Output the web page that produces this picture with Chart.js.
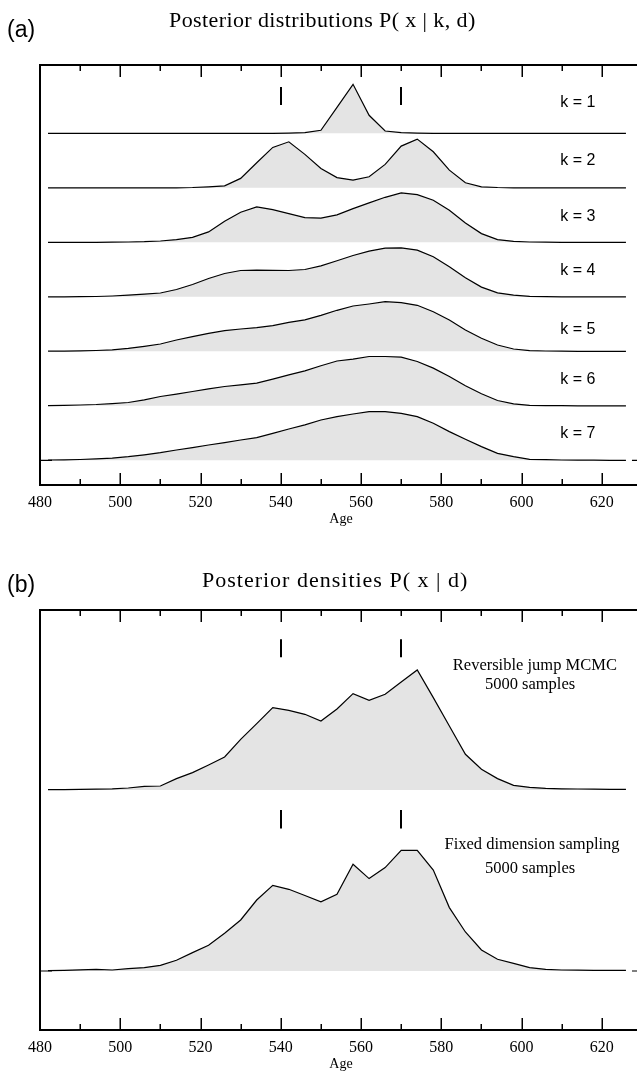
<!DOCTYPE html>
<html lang="en">
<head>
    <meta charset="UTF-8">
    <title>Posterior distributions</title>
    <style>
        html, body { margin: 0; padding: 0; overflow: hidden; background: #fff; }
        body { position: relative; width: 637px; height: 1074px; }
        canvas { position: absolute; left: 0; }
    </style>
</head>
<body>

<canvas id="chartA" width="660" height="530" style="top:0"></canvas>
<canvas id="chartB" width="660" height="530" style="top:545px"></canvas>

<script src="https://cdn.jsdelivr.net/npm/chart.js"></script>
<script>
    // ages where the densities were sampled
    const ages = [482, 486, 490, 494, 498, 502, 506, 510, 514, 518, 522, 526, 530, 534, 538, 542, 546, 550, 554,
        558, 562, 566, 570, 574, 578, 582, 586, 590, 594, 598, 602, 606, 610, 614, 618, 622, 626];
    const xTicks = [480, 500, 520, 540, 560, 580, 600, 620];
    const xMinorTicks = [490, 510, 530, 550, 570, 590, 610];
    const markerAges = [540, 570];

    // panel (a): P(x | k, d), arbitrary density units
    const kLabels = ['k = 1', 'k = 2', 'k = 3', 'k = 4', 'k = 5', 'k = 6', 'k = 7'];
    const pK1 = [0, 0, 0, 0, 0, 0, 0, 0, 0, 0, 0, 0, 0, 0, 0, 0.2, 0.6, 3, 26, 49, 18, 2.3, 0.6, 0.2,
        0, 0, 0, 0, 0, 0, 0, 0, 0, 0, 0, 0, 0];
    const pK2 = [0, 0, 0, 0, 0, 0, 0, 0, 0, 0.3, 1, 2, 9.4, 25, 40.4, 46, 33.4, 19.4, 10.2, 7.7, 11, 23.4, 41.7,
        48.7, 36, 17.7, 5, 1, 0.3, 0, 0, 0, 0, 0, 0, 0, 0];
    const pK3 = [0, 0, 0, 0, 0.1, 0.3, 0.6, 1.3, 2.7, 5, 10.4, 21, 30, 35.4, 32.7, 28.7, 24.7, 24.2, 27.5, 33.7,
        39.4, 45, 49.4, 47.7, 42, 32, 19.4, 8.7, 2.7, 1, 0.3, 0.1, 0, 0, 0, 0, 0];
    const pK4 = [0, 0, 0.1, 0.3, 0.8, 1.6, 2.6, 3.8, 7.3, 12.3, 18.3, 23.3, 26.3, 26.7, 26.5, 26.3, 27.3, 31, 36,
        41.3, 45.7, 48.7, 49, 46.7, 40, 30, 19, 9.7, 4, 1.6, 0.4, 0.1, 0, 0, 0, 0, 0];
    const pK5 = [0.1, 0.2, 0.4, 0.8, 1.4, 3, 5, 7.3, 11.3, 14.6, 18, 20.6, 22.3, 23.6, 25.6, 29, 31.5, 36, 41,
        45.3, 47.3, 49.6, 48.6, 46, 39.6, 31.3, 21.3, 13, 6.3, 2.3, 0.7, 0.3, 0.1, 0, 0, 0, 0];
    const pK6 = [0.2, 0.5, 0.8, 1.3, 2.2, 3.3, 6, 9.3, 11.7, 14.3, 17, 19.3, 21, 22.7, 26.7, 31, 35, 40, 44.8,
        46.7, 49.3, 49.3, 48.7, 44.3, 37.7, 29.3, 20, 12, 5.3, 2, 0.5, 0.2, 0.1, 0, 0, 0, 0];
    const pK7 = [0.3, 0.5, 0.8, 1.4, 2.2, 3.6, 5.5, 7.7, 10.3, 12.7, 15.3, 17.7, 20.3, 22.7, 27, 31.3, 35.5, 40.3,
        43.7, 46.3, 48.6, 48.6, 47, 43.7, 37, 28.7, 21, 13.7, 7, 3.7, 1, 0.6, 0.3, 0.2, 0.1, 0, 0];

    // panel (b): P(x | d)
    const rjLabel = ['Reversible jump MCMC', '5000 samples'];
    const fdLabel = ['Fixed dimension sampling', '5000 samples'];
    const pRJ = [0.3, 0.4, 0.7, 0.9, 1.1, 2, 3.7, 4, 11.4, 17.4, 25, 33, 50.7, 66.4, 82.4, 79.7, 75.7, 69, 81,
        96.4, 89.7, 95.7, 108, 120, 92.4, 64, 35.7, 20.7, 11.4, 4.7, 2.7, 1.7, 1.2, 1, 0.8, 0.7, 0.7];
    const pFD = [0.3, 0.7, 1.2, 1.6, 1, 2.4, 3.4, 5.7, 10.7, 18.4, 25.7, 37.7, 51, 71, 85.7, 81.7, 75.5, 69.2,
        76.7, 106.7, 92.4, 103.4, 120.7, 120.7, 101, 63.4, 39, 21, 11.7, 7.7, 3.4, 1.7, 1, 0.8, 0.7, 0.7, 0.7];

    const serif = '"Liberation Serif", "Times New Roman", serif';
    const sans = '"Liberation Sans", Arial, sans-serif';

    function ridge(dens, base) {
        return {
            data: ages.map((a, i) => ({x: a, y: base + dens[i]})),
            fill: {value: base},
            backgroundColor: '#e4e4e4',
            borderColor: '#000',
            borderWidth: 1.2,
            pointRadius: 0,
            tension: 0,
        };
    }

    // frame, inward ticks, age markers, panel heading and text
    const framePlugin = {
        id: 'frame',
        afterDraw(chart, args, opts) {
            const {ctx, chartArea: a, scales: {x, y}} = chart;
            ctx.save();
            ctx.strokeStyle = '#000';
            ctx.lineWidth = 2;
            ctx.beginPath();
            ctx.moveTo(a.left, a.top); ctx.lineTo(a.right, a.top);
            ctx.moveTo(a.left, a.top - 1); ctx.lineTo(a.left, a.bottom + 1);
            ctx.moveTo(a.left, a.bottom); ctx.lineTo(a.right, a.bottom);
            ctx.stroke();

            ctx.lineWidth = 1.5;
            ctx.beginPath();
            const tick = (v, len) => {
                const px = Math.round(x.getPixelForValue(v)) + 0.25;
                ctx.moveTo(px, a.top); ctx.lineTo(px, a.top + len);
                ctx.moveTo(px, a.bottom); ctx.lineTo(px, a.bottom - len);
            };
            xTicks.forEach(v => tick(v, 12));
            xMinorTicks.forEach(v => tick(v, 6));
            ctx.stroke();

            // short marks on the zero line of the lowest curve
            ctx.lineWidth = 1.2;
            ctx.beginPath();
            const y0 = y.getPixelForValue(0);
            ctx.moveTo(a.left, y0); ctx.lineTo(a.left + 12, y0);
            ctx.moveTo(x.getPixelForValue(627.5), y0); ctx.lineTo(a.right, y0);
            ctx.stroke();

            ctx.lineWidth = 2;
            ctx.beginPath();
            opts.marks.forEach(([lo, hi]) => {
                markerAges.forEach(v => {
                    const px = Math.round(x.getPixelForValue(v));
                    ctx.moveTo(px, y.getPixelForValue(lo));
                    ctx.lineTo(px, y.getPixelForValue(hi));
                });
            });
            ctx.stroke();

            ctx.fillStyle = '#000';
            ctx.textAlign = 'center';
            ctx.textBaseline = 'middle';
            opts.texts.forEach(t => {
                ctx.font = t.font;
                ctx.fillText(t.text, x.getPixelForValue(t.x), y.getPixelForValue(t.y));
            });

            // panel letter and title above the frame
            const h = opts.heading;
            ctx.textAlign = 'left';
            ctx.textBaseline = 'alphabetic';
            ctx.font = '23px ' + sans;
            ctx.fillText(h.label, 7, a.top - h.labelGap);
            ctx.font = '22px ' + serif;
            ctx.letterSpacing = h.spacing + 'px';
            ctx.fillText(h.title, h.left, a.top - h.titleGap);
            ctx.restore();
        }
    };

    function makeChart(id, datasets, yMin, yMax, marks, texts, heading) {
        return new Chart(document.getElementById(id), {
            type: 'line',
            data: {datasets},
            plugins: [framePlugin],
            options: {
                responsive: false,
                animation: false,
                events: [],
                layout: {padding: {top: 65, left: 40, right: 18, bottom: 0}},
                plugins: {
                    legend: {display: false},
                    tooltip: {enabled: false},
                    frame: {marks, texts, heading},
                },
                scales: {
                    x: {
                        type: 'linear', min: 480, max: 630,
                        afterBuildTicks: s => { s.ticks = xTicks.map(v => ({value: v})); },
                        afterFit: s => { s.height = 45; },
                        grid: {display: false, drawTicks: false},
                        border: {display: false},
                        ticks: {color: '#000', font: {family: serif, size: 16}, padding: 8, maxRotation: 0, autoSkip: false},
                        title: {display: true, text: 'Age', color: '#000', font: {family: serif, size: 14}, padding: {top: 2, bottom: 2}},
                    },
                    y: {type: 'linear', display: false, min: yMin, max: yMax},
                },
            },
        });
    }

    // panel (a): seven ridges, one strip of 54.5 units each
    const kDens = [pK1, pK2, pK3, pK4, pK5, pK6, pK7];
    const kLift = [30.6, 27.7, 26, 26.6, 22, 26.7, 26.3];
    const kBase = kDens.map((d, i) => (6 - i) * 54.5);
    makeChart('chartA',
        kDens.map((d, i) => ridge(d, kBase[i])),
        -24.7, 395.3,
        [[kBase[0] + 28.3, kBase[0] + 46.3]],
        kLabels.map((t, i) => ({text: t, x: 614, y: kBase[i] + kLift[i], font: '16px ' + sans})),
        {label: '(a)', title: 'Posterior distributions P( x | k, d)', left: 169, spacing: 0.4, labelGap: 28.5, titleGap: 37.6});

    // panel (b): two densities
    const rjBase = 181, fdBase = 0;
    makeChart('chartB',
        [ridge(pRJ, rjBase), ridge(pFD, fdBase)],
        -59, 361,
        [[rjBase + 132.7, rjBase + 150.7], [fdBase + 142.4, fdBase + 161]],
        [
            {text: rjLabel[0], x: 603.3, y: rjBase + 124, font: '16.5px ' + serif},
            {text: rjLabel[1], x: 602.1, y: rjBase + 105, font: '16.5px ' + serif},
            {text: fdLabel[0], x: 602.6, y: fdBase + 126, font: '16.5px ' + serif},
            {text: fdLabel[1], x: 602.1, y: fdBase + 102.7, font: '16.5px ' + serif},
        ],
        {label: '(b)', title: 'Posterior densities P( x | d)', left: 202, spacing: 1, labelGap: 18.5, titleGap: 22.6});
</script>
</body>
</html>
